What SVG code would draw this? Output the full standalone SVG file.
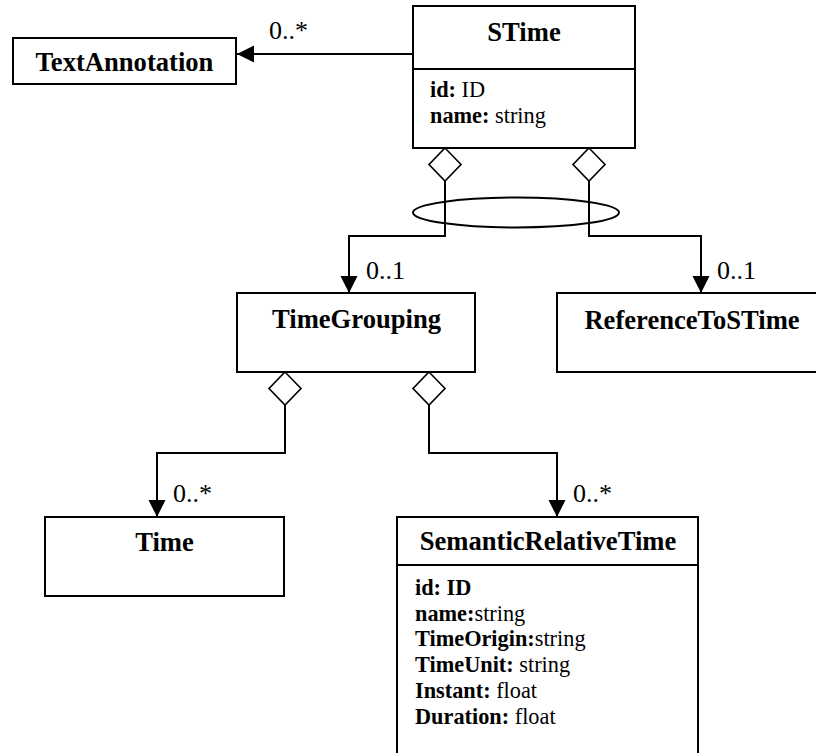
<svg xmlns="http://www.w3.org/2000/svg" width="816" height="753" viewBox="0 0 816 753">
<style>
.box{fill:#fff;stroke:#000;stroke-width:2}
.ln{fill:none;stroke:#000;stroke-width:2}
.dia{fill:#fff;stroke:#000;stroke-width:1.6}
.title{font-family:"Liberation Serif","Times New Roman",serif;font-size:26.6px;font-weight:bold;text-anchor:middle;fill:#000}
.attr{font-family:"Liberation Serif","Times New Roman",serif;font-size:22.3px;fill:#000}
.b{font-weight:bold}
.mult{font-family:"Liberation Serif","Times New Roman",serif;font-size:26px;fill:#000}
</style>
<defs>
<marker id="arr" markerWidth="18" markerHeight="18" viewBox="0 0 18 18" refX="17" refY="9" orient="auto" markerUnits="userSpaceOnUse">
<path d="M0,0.5 L17,9 L0,17.5 Z" fill="#000"/>
</marker>
</defs>
<rect width="816" height="753" fill="#fff"/>
<g id="connectors">
<line class="ln" x1="413" y1="54" x2="237" y2="54" marker-end="url(#arr)"/>
<polyline class="ln" points="445,181 445,236 349,236 349,293" marker-end="url(#arr)"/>
<polyline class="ln" points="589,181 589,236 701,236 701,293" marker-end="url(#arr)"/>
<polyline class="ln" points="285,405 285,453 157,453 157,517" marker-end="url(#arr)"/>
<polyline class="ln" points="429,405 429,453 557,453 557,517" marker-end="url(#arr)"/>
<polygon class="dia" points="445,148 461,164.5 445,181 429,164.5"/>
<polygon class="dia" points="589,148 605,164.5 589,181 573,164.5"/>
<polygon class="dia" points="285,372 301,388.5 285,405 269,388.5"/>
<polygon class="dia" points="429,372 445,388.5 429,405 413,388.5"/>
<ellipse class="ln" cx="516" cy="212.5" rx="103" ry="15"/>
<text class="mult" x="269" y="39">0..*</text>
<text class="mult" x="366" y="279">0..1</text>
<text class="mult" x="717" y="279">0..1</text>
<text class="mult" x="173" y="502">0..*</text>
<text class="mult" x="573" y="502">0..*</text>
</g>
<g id="TextAnnotation">
<rect class="box" x="13" y="38" width="223" height="46"/>
<text class="title" x="124.5" y="70.5">TextAnnotation</text>
</g>
<g id="STime">
<rect class="box" x="413" y="6" width="222" height="142"/>
<line class="ln" x1="413" y1="69" x2="635" y2="69"/>
<text class="title" x="524" y="40.5">STime</text>
<text class="attr" x="430" y="97"><tspan class="b">id:</tspan> ID</text>
<text class="attr" x="430" y="123"><tspan class="b">name:</tspan> string</text>
</g>
<g id="TimeGrouping">
<rect class="box" x="237" y="293" width="238" height="79"/>
<text class="title" x="356.5" y="328">TimeGrouping</text>
</g>
<g id="ReferenceToSTime">
<rect class="box" x="557" y="293" width="270" height="79"/>
<text class="title" x="692" y="328.5">ReferenceToSTime</text>
</g>
<g id="Time">
<rect class="box" x="45" y="517" width="239" height="79"/>
<text class="title" x="164.5" y="550.5">Time</text>
</g>
<g id="SemanticRelativeTime">
<rect class="box" x="397" y="517" width="301" height="250"/>
<line class="ln" x1="397" y1="565" x2="698" y2="565"/>
<text class="title" x="548" y="550">SemanticRelativeTime</text>
<text class="attr" x="415" y="595"><tspan class="b">id: ID</tspan></text>
<text class="attr" x="415" y="620.5"><tspan class="b">name:</tspan>string</text>
<text class="attr" x="415" y="646"><tspan class="b">TimeOrigin:</tspan>string</text>
<text class="attr" x="415" y="671.5"><tspan class="b">TimeUnit:</tspan> string</text>
<text class="attr" x="415" y="697.5"><tspan class="b">Instant:</tspan> float</text>
<text class="attr" x="415" y="724"><tspan class="b">Duration:</tspan> float</text>
</g>
</svg>
